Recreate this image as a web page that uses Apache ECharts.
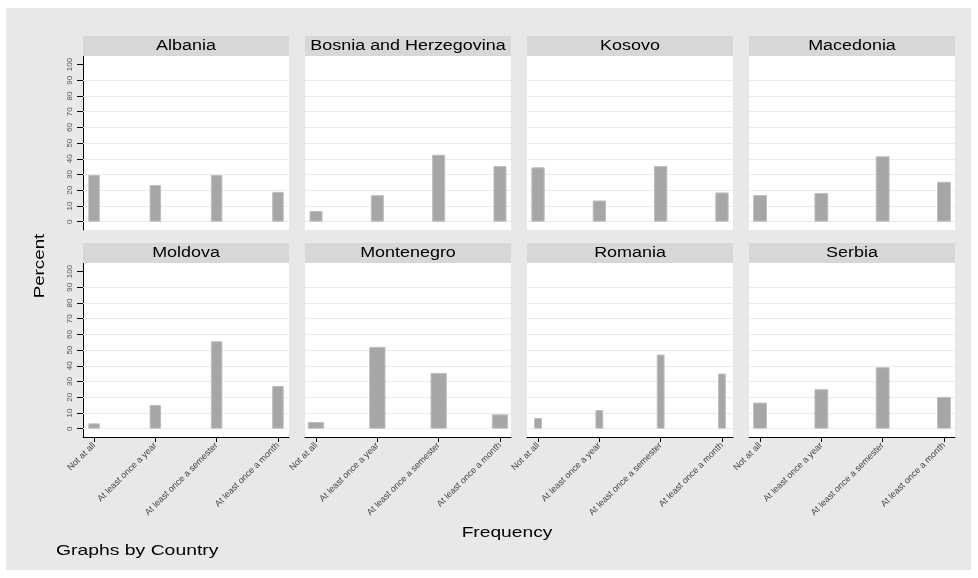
<!DOCTYPE html>
<html>
<head>
<meta charset="utf-8">
<script src="https://cdn.jsdelivr.net/npm/echarts@6/dist/echarts.min.js"></script>
<style>
  html, body { margin: 0; padding: 0; background: #ffffff; }
  #bg { position: absolute; left: 6px; top: 8px; width: 965px; height: 562px; background: #e8e8e8; }
  #chart { position: absolute; left: 0; top: 0; width: 978px; height: 578px; }
</style>
</head>
<body>
<div id="bg"></div>
<div id="chart"></div>
<script>
// ---- data ----
const categories = ['Not at all', 'At least once a year', 'At least once a semester', 'At least once a month'];
const countries = ['Albania', 'Bosnia and Herzegovina', 'Kosovo', 'Macedonia', 'Moldova', 'Montenegro', 'Romania', 'Serbia'];
const albania    = [29.7, 23.4, 29.7, 19.0];
const bosnia     = [6.8, 16.9, 42.6, 35.4];
const kosovo     = [34.6, 13.5, 35.4, 18.6];
const macedonia  = [16.9, 18.3, 41.6, 25.4];
const moldova    = [3.4, 15.1, 55.7, 27.2];
const montenegro = [4.3, 52.1, 35.5, 9.1];
const romania    = [6.8, 11.9, 47.2, 35.1];
const serbia     = [16.6, 25.1, 39.1, 20.2];
const yTickLabels = [0, 10, 20, 30, 40, 50, 60, 70, 80, 90, 100];
const gridLineValues = [0, 10, 20, 30, 40, 50, 60, 70, 80, 90];
const xTickValues = [1, 2, 3, 4];

const values = [albania, bosnia, kosovo, macedonia, moldova, montenegro, romania, serbia];

// ---- styling / layout ----
const barWidths = [11.5, 13, 13.3, 13.8, 11.5, 16.3, 7.8, 13.8];
const colLeft0 = 83, colStep = 222, panelW = 206;
const headerTops = [36, 243], headerH = 20, plotBottoms = [230, 437];
const FONT = 'Liberation Sans';

const grids = [], xAxes = [], yAxes = [], series = [], graphics = [];

countries.forEach((name, i) => {
  const r = Math.floor(i / 4), c = i % 4;
  const left = colLeft0 + c * colStep;
  const plotTop = headerTops[r] + headerH;
  const plotH = plotBottoms[r] - plotTop;
  const isBottom = r === 1, isLeft = c === 0;

  grids.push({ left: left, top: plotTop, width: panelW, height: plotH, show: true,
    backgroundColor: '#ffffff', borderWidth: 0 });

  xAxes.push({
    type: 'value', gridIndex: i, min: 0.82, max: 4.18,
    splitLine: { show: false },
    axisLine: { show: isBottom, onZero: false, lineStyle: { color: '#000', width: 1 } },
    axisTick: { show: isBottom, customValues: xTickValues, length: 5, lineStyle: { color: '#000' } },
    axisLabel: { show: isBottom, customValues: xTickValues, rotate: 45, margin: 7,
      fontFamily: FONT, fontSize: 9, color: '#444',
      formatter: v => categories[Math.round(v) - 1] || '' }
  });

  yAxes.push({
    type: 'value', gridIndex: i, min: -5.3, max: 105.5,
    splitLine: { show: false },
    axisLine: { show: isLeft, onZero: false, lineStyle: { color: '#000', width: 1 } },
    axisTick: { show: isLeft, customValues: yTickLabels, length: 6, lineStyle: { color: '#000' } },
    axisLabel: { show: isLeft, customValues: yTickLabels, rotate: 90, margin: 9,
      fontFamily: FONT, fontSize: 8, color: '#555' }
  });

  series.push({
    type: 'line', xAxisIndex: i, yAxisIndex: i, data: [], z: 1, silent: true,
    markLine: { silent: true, symbol: 'none', animation: false, z: 1, zlevel: 0,
      label: { show: false },
      lineStyle: { color: '#ebebeb', width: 1, type: 'solid' },
      data: gridLineValues.map(v => ({ yAxis: v })) }
  });

  series.push({
    type: 'bar', xAxisIndex: i, yAxisIndex: i, z: 10,
    barWidth: barWidths[i],
    itemStyle: { color: '#a6a6a6', borderColor: '#bdbdbd', borderWidth: 1 },
    data: values[i].map((v, k) => [xTickValues[k], v])
  });

  graphics.push({ type: 'rect', shape: { x: left, y: headerTops[r], width: panelW, height: headerH },
    style: { fill: '#d7d7d7' }, z: 5 });
  graphics.push({ type: 'text', x: left + panelW / 2, y: headerTops[r] + headerH / 2 + 0.5, scaleX: 1.28, z: 6,
    style: { text: name, fill: '#000', font: '14px "' + FONT + '"', align: 'center', verticalAlign: 'middle' } });
});

graphics.push({ type: 'text', x: 40, y: 266, rotation: Math.PI / 2, scaleX: 1.25, z: 6,
  style: { text: 'Percent', fill: '#000', font: '15px "' + FONT + '"', align: 'center', verticalAlign: 'middle' } });
graphics.push({ type: 'text', x: 507, y: 533, scaleX: 1.28, z: 6,
  style: { text: 'Frequency', fill: '#000', font: '15px "' + FONT + '"', align: 'center', verticalAlign: 'middle' } });
graphics.push({ type: 'text', x: 56, y: 551, scaleX: 1.29, z: 6,
  style: { text: 'Graphs by Country', fill: '#000', font: '15px "' + FONT + '"', align: 'left', verticalAlign: 'middle' } });

const chart = echarts.init(document.getElementById('chart'), null, { renderer: 'canvas' });
chart.setOption({
  animation: false,
  backgroundColor: 'transparent',
  grid: grids, xAxis: xAxes, yAxis: yAxes, series: series,
  graphic: { elements: graphics }
});
</script>
</body>
</html>
